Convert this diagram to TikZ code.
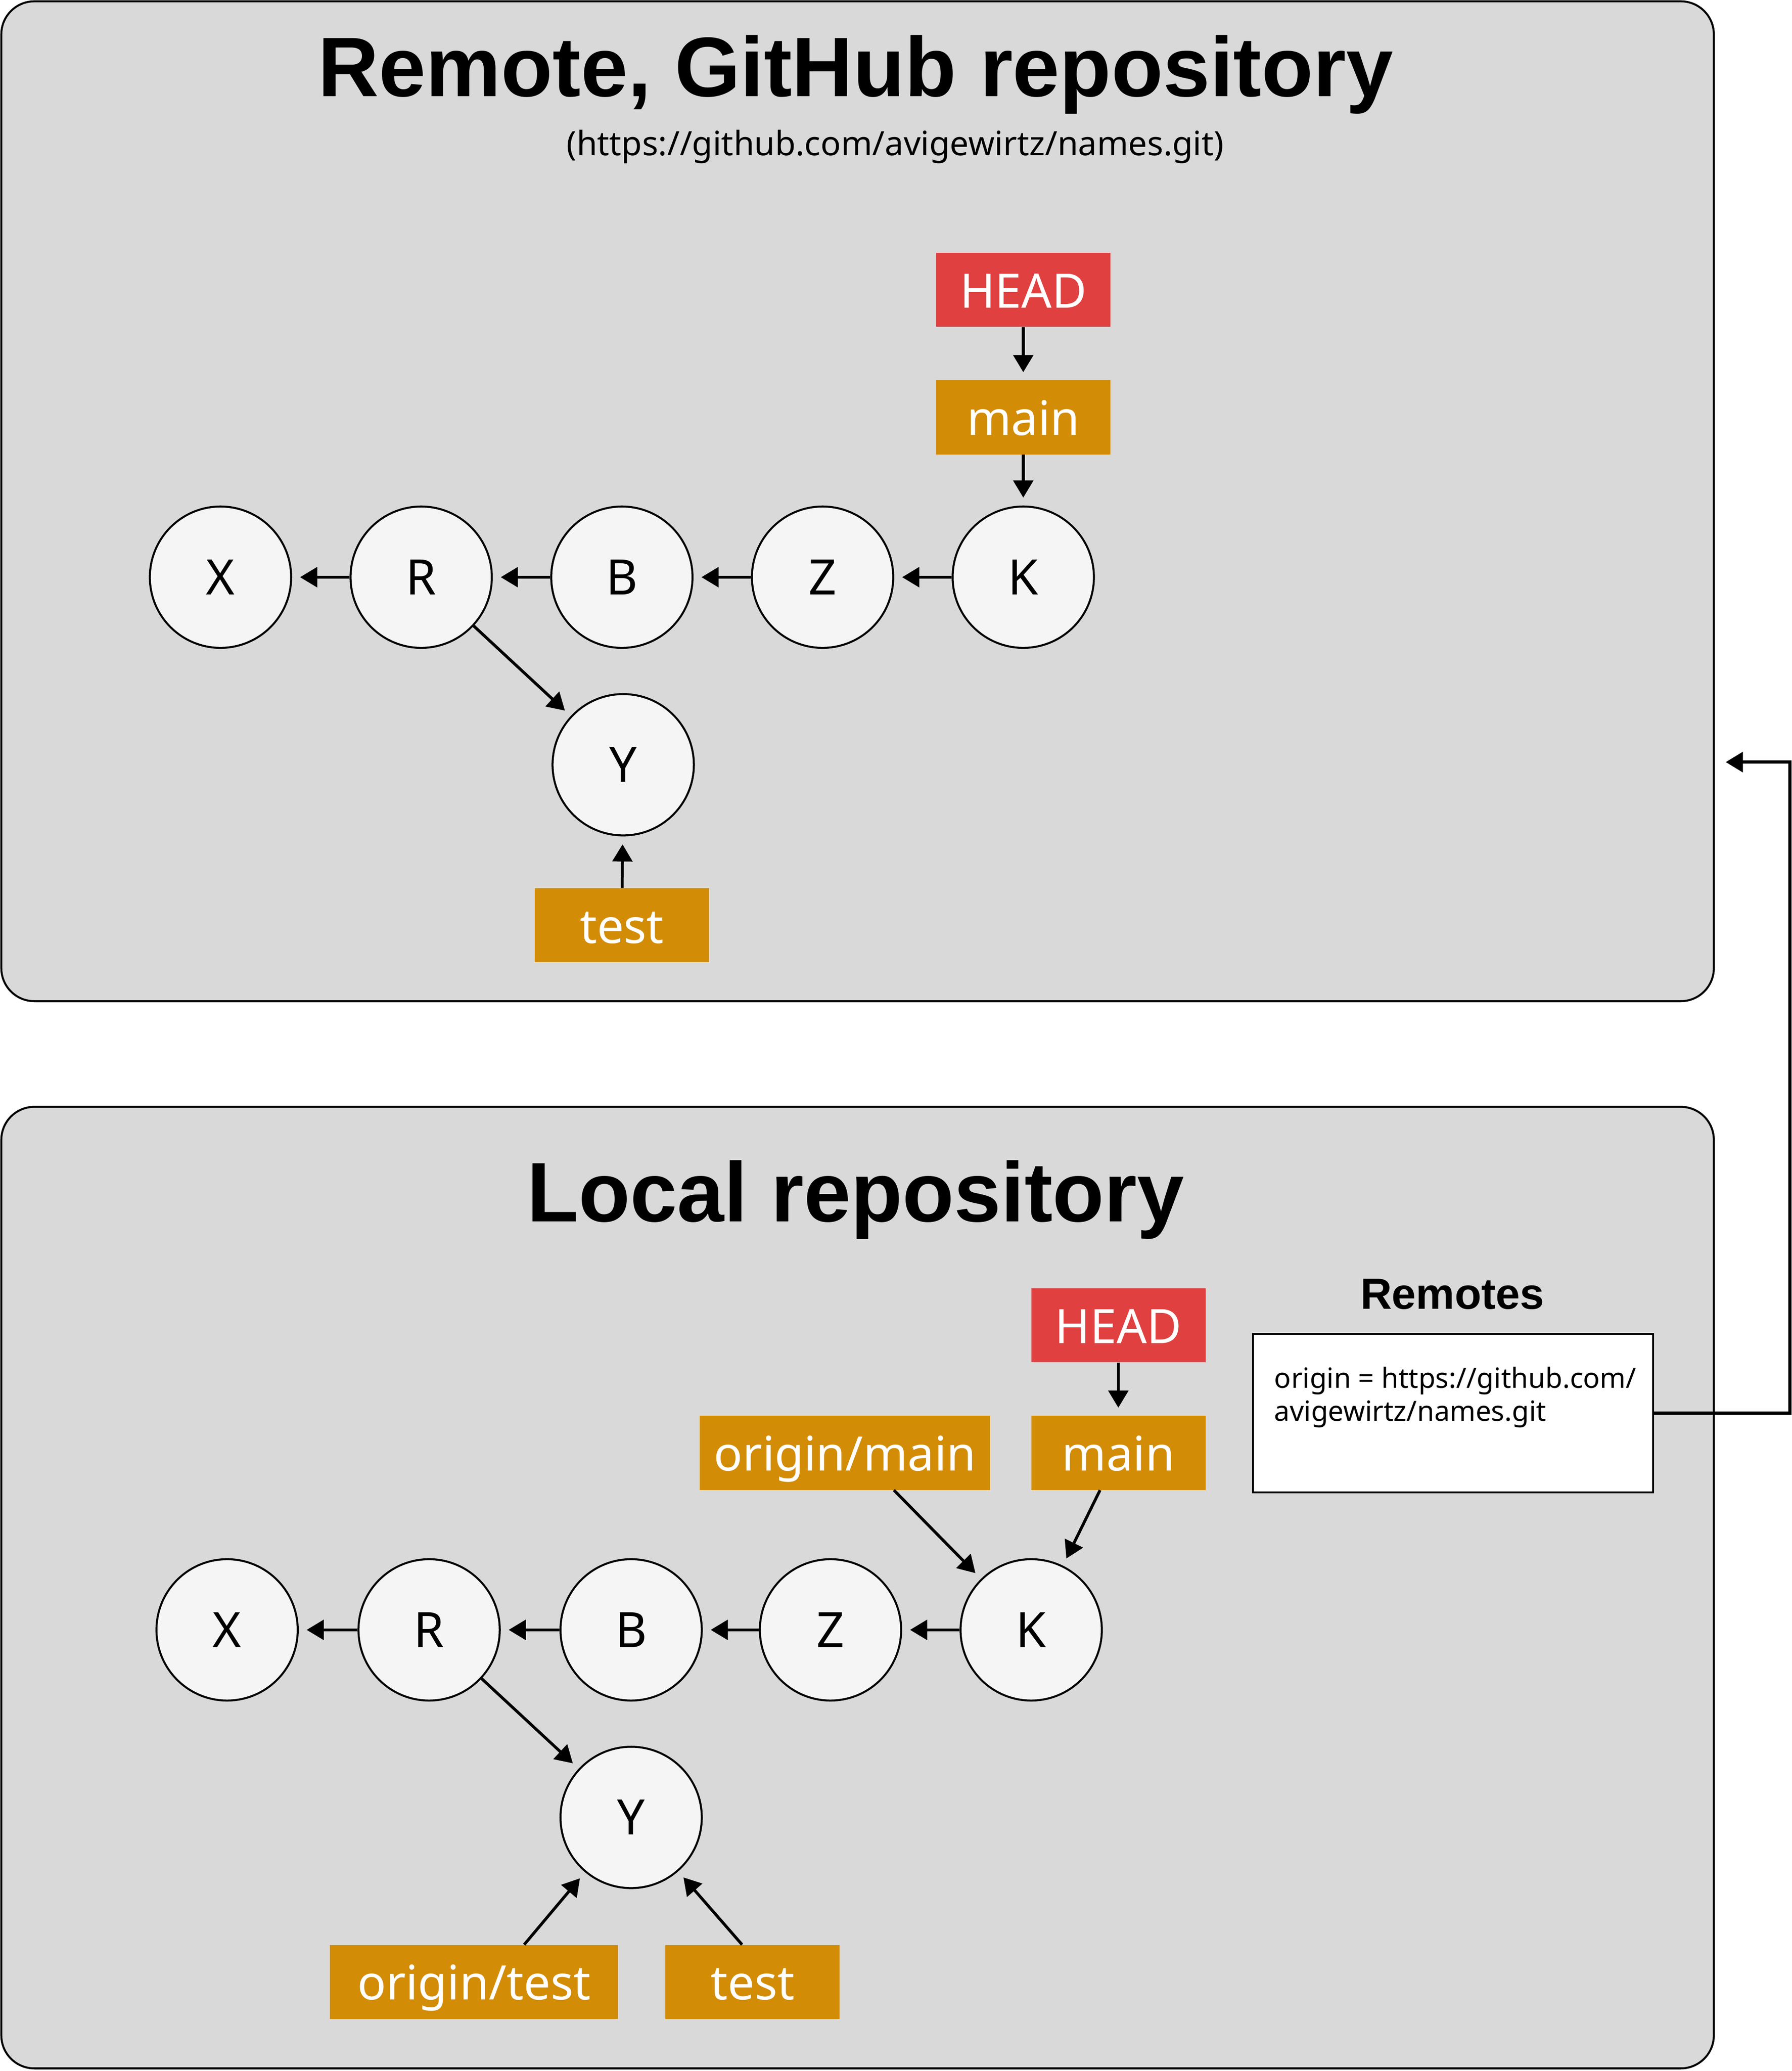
\documentclass[tikz,border=0pt]{standalone}
\usepackage{fontspec}
\setmainfont{Noto Sans}
\newfontfamily\headfont{Liberation Sans}
\usetikzlibrary{arrows.meta,calc}
\definecolor{panelgray}{HTML}{D9D9D9}
\definecolor{nodefill}{HTML}{F5F5F5}
\definecolor{headred}{HTML}{E04040}
\definecolor{branchorange}{HTML}{D38C06}
\begin{document}
\begin{tikzpicture}[x=1pt,y=-1pt,
  panel/.style={draw=black, line width=1.5pt, fill=panelgray, rounded corners=25pt, inner sep=0pt, rectangle},
  commit/.style={circle, draw=black, line width=1.5pt, fill=nodefill, minimum size=107pt, inner sep=0pt, font=\fontsize{37}{44}\selectfont},
  ref/.style={rectangle, minimum height=56pt, minimum width=132pt, inner sep=0pt, text=white, text height=27pt, text depth=0pt, font=\fontsize{36}{43}\selectfont},
  headref/.style={ref, fill=headred},
  branch/.style={ref, fill=branchorange},
  link/.style={-{Triangle[length=13pt,width=15pt]}, line width=2.2pt, shorten >=6pt},
  title/.style={font=\headfont\bfseries\fontsize{64}{72}\selectfont, inner sep=0pt, anchor=base},
]
\useasboundingbox (0,0) rectangle (1357,1568);

% panels
\node[panel, minimum width=1297pt, minimum height=757pt] (toppanel) at (649.5,379.5) {};
\node[panel, minimum width=1297pt, minimum height=728pt] (botpanel) at (649.5,1202) {};

% titles
\node[title] (toptitle) at (648,73) {Remote, GitHub repository};
\node[font=\fontsize{25.4}{30}\selectfont, inner sep=0pt] (url) at (678,111) {(https://github.com/avigewirtz/names.git)};
\node[title] (bottitle) at (648,925) {Local repository};

% top graph
\node[commit] (X1) at (167,437) {X};
\node[commit] (R1) at (319,437) {R};
\node[commit] (B1) at (471,437) {B};
\node[commit] (Z1) at (623,437) {Z};
\node[commit] (K1) at (775,437) {K};
\node[commit] (Y1) at (472,579) {Y};
\node[headref] (H1) at (775,219.5) {HEAD};
\node[branch] (M1) at (775,316) {main};
\node[branch] (T1) at (471,700.5) {test};

\draw[link] (H1) -- (M1);
\draw[link] (M1) -- (K1);
\draw[link] (K1) -- (Z1);
\draw[link] (Z1) -- (B1);
\draw[link] (B1) -- (R1);
\draw[link] (R1) -- (X1);
\draw[link] (R1) -- (Y1);
\draw[link] (T1) -- (Y1);

% bottom graph
\node[commit] (X2) at (172,1234) {X};
\node[commit] (R2) at (325,1234) {R};
\node[commit] (B2) at (478,1234) {B};
\node[commit] (Z2) at (629,1234) {Z};
\node[commit] (K2) at (781,1234) {K};
\node[commit] (Y2) at (478,1376) {Y};
\node[headref] (H2) at (847,1003.5) {HEAD};
\node[branch] (M2) at (847,1100) {main};
\node[branch, minimum width=220pt] (OM) at (640,1100) {origin/main};
\node[branch, minimum width=218pt] (OT) at (359,1500.5) {origin/test};
\node[branch] (T2) at (570,1500.5) {test};

\draw[link] (H2) -- (M2);
\draw[link] (M2) -- (K2);
\draw[link] ([xshift=37pt]OM.south) -- (K2);
\draw[link] (K2) -- (Z2);
\draw[link] (Z2) -- (B2);
\draw[link] (B2) -- (R2);
\draw[link] (R2) -- (X2);
\draw[link] (R2) -- (Y2);
\draw[link] ([xshift=38pt]OT.north) -- (Y2);
\draw[link] ([xshift=-8pt]T2.north) -- (Y2);

% remotes
\node[font=\headfont\bfseries\fontsize{33}{38}\selectfont, inner sep=0pt, anchor=base] (remlabel) at (1100,991) {Remotes};
\node[rectangle, draw=black, line width=1.5pt, fill=white, minimum width=303pt, minimum height=120pt, inner sep=0pt] (rem) at (1100.5,1070) {};
\node[anchor=base west, inner sep=0pt, align=left, font=\fontsize{21}{25}\selectfont] (remtext) at (965,1076) {origin = https://github.com/\\avigewirtz/names.git};

\coordinate (remtarget) at (1307,577);
\draw[link, shorten >=0pt, line width=2.5pt] (rem.east) -- ++(103,0) |- (remtarget);
\end{tikzpicture}
\end{document}
